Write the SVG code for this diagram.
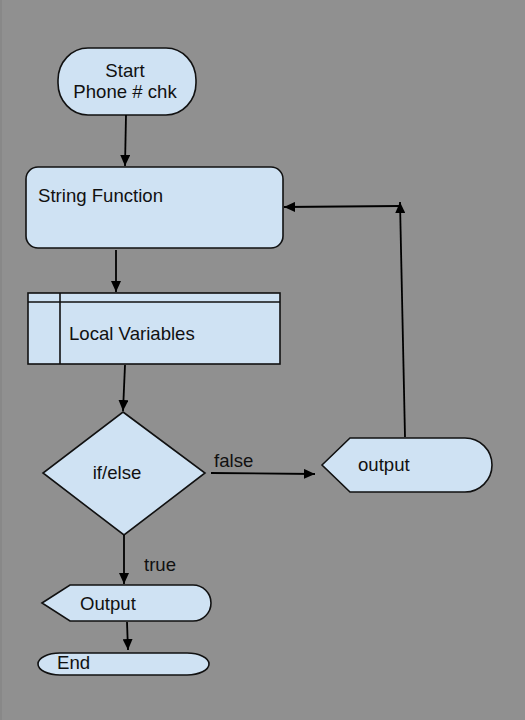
<svg xmlns="http://www.w3.org/2000/svg" width="525" height="720" viewBox="0 0 525 720">
<style>
.node{fill:#cfe2f3;stroke:#111;stroke-width:1.6}
.lbl{font-family:"Liberation Sans",Arial,sans-serif;font-size:18.6px;fill:#111}
.edge{fill:none;stroke:#000;stroke-width:1.8}
</style>
<defs>
<marker id="ah" markerUnits="userSpaceOnUse" markerWidth="12" markerHeight="10" refX="11" refY="5" orient="auto">
<path d="M0,0 L11,5 L0,10 Z" fill="#000"/>
</marker>
</defs>
<rect x="0" y="0" width="525" height="720" fill="#909090"/>
<rect x="0" y="0" width="2" height="720" fill="#888888"/>
<g id="start">
<rect class="node" x="58" y="48" width="138" height="67" rx="30" ry="32"/>
<text class="lbl" x="125" y="77" text-anchor="middle">Start</text>
<text class="lbl" x="125" y="98" text-anchor="middle">Phone # chk</text>
</g>
<g id="stringfunction">
<rect class="node" x="26" y="167" width="257" height="81" rx="12"/>
<text class="lbl" x="38" y="202">String Function</text>
</g>
<g id="localvariables">
<rect class="node" x="28" y="293" width="252" height="71"/>
<line class="node" x1="28" y1="302" x2="280" y2="302"/>
<line class="node" x1="60" y1="293" x2="60" y2="364"/>
<text class="lbl" x="69" y="340">Local Variables</text>
</g>
<g id="ifelse">
<path class="node" d="M123,412 L205,473 L124,535 L43,473 Z"/>
<text class="lbl" x="117" y="479" text-anchor="middle">if/else</text>
</g>
<g id="output1">
<path class="node" d="M322,465 L350,438 L465,438 A27,27 0 0 1 465,492 L350,492 Z"/>
<text class="lbl" x="358" y="471">output</text>
</g>
<g id="output2">
<path class="node" d="M42,603 L70,585 L193,585 A18,18 0 0 1 193,621 L70,621 Z"/>
<text class="lbl" x="80" y="610">Output</text>
</g>
<g id="end">
<rect class="node" x="38" y="653" width="171" height="22" rx="22" ry="11"/>
<text class="lbl" x="57" y="669">End</text>
</g>
<g id="connectors">
<line class="edge" x1="126" y1="115" x2="125" y2="166" marker-end="url(#ah)"/>
<line class="edge" x1="116" y1="250" x2="116" y2="292" marker-end="url(#ah)"/>
<line class="edge" x1="125" y1="365" x2="123" y2="411" marker-end="url(#ah)"/>
<line class="edge" x1="211" y1="473" x2="315" y2="474" marker-end="url(#ah)"/>
<line class="edge" x1="405" y1="437" x2="400" y2="202" marker-end="url(#ah)"/>
<line class="edge" x1="400" y1="206" x2="284" y2="207" marker-end="url(#ah)"/>
<line class="edge" x1="124" y1="535" x2="124" y2="584" marker-end="url(#ah)"/>
<line class="edge" x1="127" y1="622" x2="128" y2="650" marker-end="url(#ah)"/>
<text class="lbl" x="214" y="467">false</text>
<text class="lbl" x="144" y="571">true</text>
</g>
</svg>
